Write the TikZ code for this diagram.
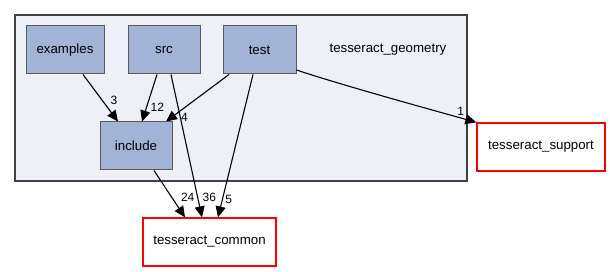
\documentclass[tikz,border=0pt]{standalone}
\usepackage{fontspec}
\setmainfont{Liberation Sans}
\usetikzlibrary{arrows.meta, positioning}
\definecolor{dirfill}{HTML}{A2B4D6}
\definecolor{dirline}{HTML}{5A5A5A}
\definecolor{clusterfill}{HTML}{EDF0F7}
\definecolor{clusterline}{HTML}{404040}
\definecolor{extline}{HTML}{FF0000}
\tikzset{
  dirnode/.style={
    rectangle, minimum width=#1, minimum height=48pt, inner sep=0pt,
    draw=dirline, fill=dirfill, line width=1pt,
    font=\fontsize{13.3}{16}\selectfont
  },
  extnode/.style={
    rectangle, minimum width=#1, minimum height=48pt, inner sep=0pt,
    draw=extline, fill=white, line width=1.3pt,
    font=\fontsize{13.3}{16}\selectfont
  },
  clusterbox/.style={
    rectangle, minimum width=452pt, minimum height=166pt, inner sep=0pt,
    draw=clusterline, fill=clusterfill, line width=2.6pt
  },
  deparrow/.style={-{Triangle[length=11pt,width=10pt]}, line width=1.1pt},
  deplabel/.style={font=\fontsize{12}{14}\selectfont, inner sep=0.5pt},
}

\begin{document}
\begin{tikzpicture}[x=1pt,y=-1pt]
  \useasboundingbox (0,0) rectangle (610,272);
  % the directory cluster and its label
  \node[clusterbox] (geometry) at (241,98) {};
  \node[font=\fontsize{13.3}{16}\selectfont] (geomlabel) at (388,50) {tesseract\_geometry};
  % sub directories
  \node[dirnode=78pt] (examples) at (65,50) {examples};
  \node[dirnode=72pt] (src) at (164,50) {src};
  \node[dirnode=73pt] (test) at (259.5,50) {test};
  \node[dirnode=72pt] (include) at (136,146) {include};
  % outside dependencies
  \node[extnode=133pt] (common) at (209.5,242) {tesseract\_common};
  \node[extnode=128pt] (support) at (541,147) {tesseract\_support};
  % edges with counts
  \draw[deparrow] ([xshift=18pt]examples.south) -- ([xshift=-18pt]include.north)
       node[deplabel,pos=0.56,anchor=west,xshift=7pt] {3};
  \draw[deparrow] ([xshift=-7pt]src.south) -- ([xshift=6pt]include.north)
       node[deplabel,pos=0.69,anchor=west,xshift=3pt] {12};
  \draw[deparrow] ([xshift=-30.5pt]test.south) -- ([xshift=30pt]include.north)
       node[deplabel,pos=0.92,anchor=west,xshift=9pt] {4};
  \draw[deparrow] ([xshift=7pt]src.south) -- ([xshift=-7.5pt]common.north)
       node[deplabel,pos=0.86,anchor=west,xshift=4pt] {36};
  \draw[deparrow] ([xshift=-6.5pt]test.south) -- ([xshift=8.5pt]common.north)
       node[deplabel,pos=0.875,anchor=west,xshift=2pt] {5};
  \draw[deparrow] ([xshift=18pt]include.south) -- ([xshift=-24.5pt]common.north)
       node[deplabel,pos=0.58,anchor=west,xshift=8pt] {24};
  \draw[deparrow] ([yshift=-20pt]test.east) .. controls +(45,15) and +(-50,-14) .. (support.north west)
       node[deplabel,pos=0.94,anchor=south east,xshift=-2pt,yshift=3pt] {1};
\end{tikzpicture}
\end{document}
